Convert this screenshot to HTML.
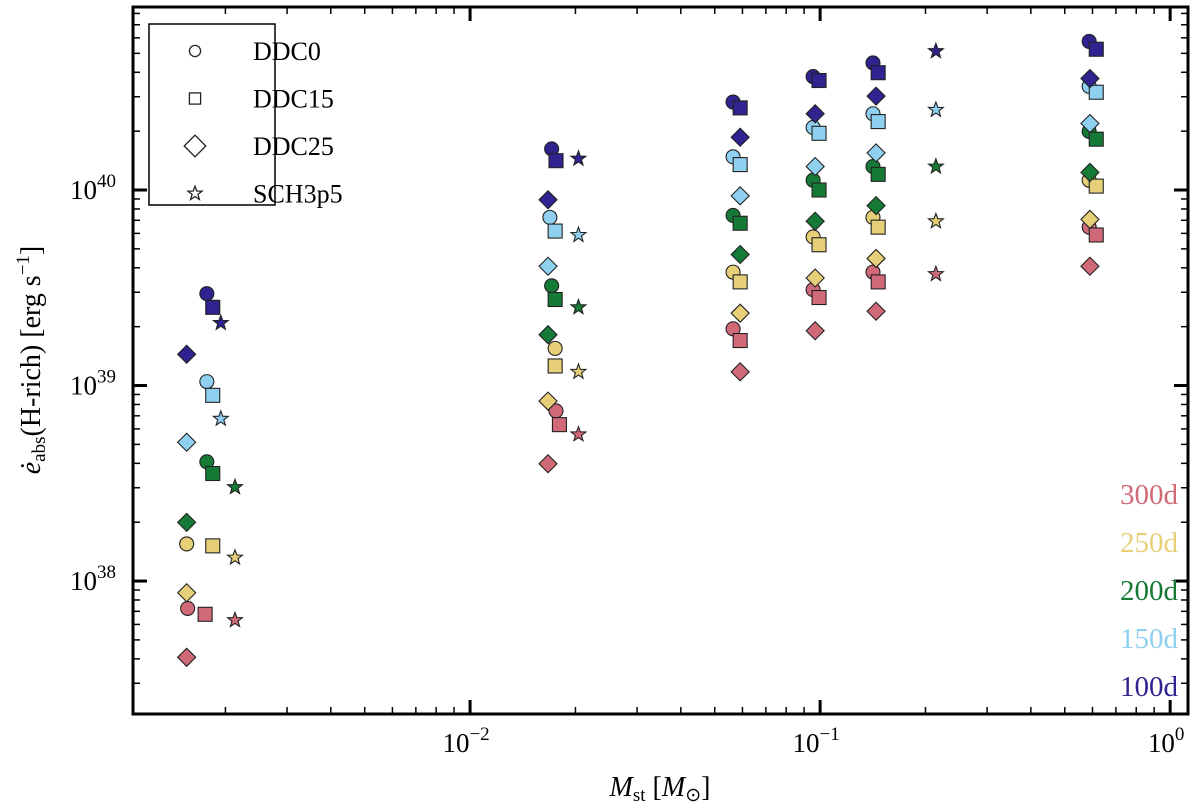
<!DOCTYPE html>
<html><head><meta charset="utf-8"><style>
html,body{margin:0;padding:0;background:#fff;}
svg text{font-family:"Liberation Serif",serif;}
</style></head><body>
<svg id="chart" width="1200" height="805" viewBox="0 0 1200 805" xmlns="http://www.w3.org/2000/svg"></svg>
<script>
// epochs: rows 100d,150d,200d,250d,300d
const epochs = ['100d','150d','200d','250d','300d'];
const epochColors = ['#2e238f','#8fd0f0','#157a35','#e6cf78','#d06a78'];
const models = ['DDC0','DDC15','DDC25','SCH3p5'];
// masses [Msun] per epoch, per model grid
const ddc0Mass = [
 [0.00177,0.0171,0.0564,0.0955,0.1416,0.587],
 [0.00177,0.0169,0.0564,0.0955,0.1416,0.587],
 [0.00177,0.0171,0.0564,0.0955,0.1416,0.587],
 [0.00155,0.0175,0.0564,0.0955,0.1416,0.587],
 [0.00156,0.0176,0.0564,0.0955,0.1416,0.587]];
const ddc0LogE = [
 [39.47,40.21,40.45,40.58,40.65,40.76],
 [39.02,39.86,40.17,40.32,40.39,40.53],
 [38.61,39.51,39.87,40.05,40.12,40.30],
 [38.19,39.19,39.58,39.76,39.86,40.05],
 [37.86,38.87,39.29,39.49,39.58,39.81]];
const ddc15Mass = [
 [0.00184,0.0176,0.0591,0.0993,0.1465,0.615],
 [0.00184,0.0175,0.0591,0.0993,0.1465,0.615],
 [0.00184,0.0175,0.0591,0.0993,0.1465,0.615],
 [0.00184,0.0175,0.0591,0.0993,0.1465,0.615],
 [0.00175,0.0180,0.0591,0.0993,0.1465,0.615]];
const ddc15LogE = [
 [39.40,40.15,40.42,40.56,40.60,40.72],
 [38.95,39.79,40.13,40.29,40.35,40.50],
 [38.55,39.44,39.83,40.00,40.08,40.26],
 [38.18,39.10,39.53,39.72,39.81,40.02],
 [37.83,38.80,39.23,39.45,39.53,39.77]];
const ddc25Mass = [0.00155,0.0167,0.0591,0.0968,0.1445,0.590];
const ddc25LogE = [
 [39.16,39.95,40.27,40.39,40.48,40.57],
 [38.71,39.61,39.97,40.12,40.19,40.34],
 [38.30,39.26,39.67,39.84,39.92,40.09],
 [37.94,38.92,39.37,39.55,39.65,39.85],
 [37.61,38.60,39.07,39.28,39.38,39.61]];
const sch3p5Mass = [
 [0.00194,0.0204,0.2142],
 [0.00194,0.0204,0.2142],
 [0.00213,0.0204,0.2142],
 [0.00213,0.0204,0.2142],
 [0.00213,0.0204,0.2142]];
const sch3p5LogE = [
 [39.32,40.16,40.71],
 [38.83,39.77,40.41],
 [38.48,39.40,40.12],
 [38.12,39.07,39.84],
 [37.80,38.75,39.57]];
const xTickLabels = ['10','10','10'];
const xTickExps = [-2,-1,0];
const yTickExps = [38,39,40];

const L=133,R=1188,T=7,B=714;
const xMinLog=-2.963,xMaxLog=0.051,yMinLog=37.32,yMaxLog=40.936;
function X(m){return L+(Math.log10(m)-xMinLog)/(xMaxLog-xMinLog)*(R-L);}
function Y(le){return B-(le-yMinLog)/(yMaxLog-yMinLog)*(B-T);}
const svg=document.getElementById('chart');
const NS='http://www.w3.org/2000/svg';
function mk(tag,attrs,parent){const e=document.createElementNS(NS,tag);for(const k in attrs)e.setAttribute(k,attrs[k]);(parent||svg).appendChild(e);return e;}

function marker(shape,cx,cy,fill,sw,sc,parent){
  let e;
  if(shape==='circle'){e=mk('circle',{cx:cx,cy:cy,r:7*sc},parent);}
  else if(shape==='square'){const s=7*sc;e=mk('rect',{x:cx-s,y:cy-s,width:2*s,height:2*s},parent);}
  else if(shape==='diamond'){const a=9*sc,b=9*sc;e=mk('polygon',{points:`${cx},${cy-a} ${cx+b},${cy} ${cx},${cy+a} ${cx-b},${cy}`},parent);}
  else {let p=[];for(let i=0;i<10;i++){const r=(i%2?3.2:7.8)*sc;const an=-Math.PI/2+i*Math.PI/5;p.push((cx+r*Math.cos(an)).toFixed(1)+','+(cy+r*Math.sin(an)).toFixed(1));}e=mk('polygon',{points:p.join(' ')},parent);}
  e.setAttribute('fill',fill);e.setAttribute('stroke','#222');e.setAttribute('stroke-width',sw);
  return e;
}

// data marks
const series=[['circle',ddc0Mass,ddc0LogE,'ddc0'],['square',ddc15Mass,ddc15LogE,'ddc15'],['diamond',ddc25Mass,ddc25LogE,'ddc25'],['star',sch3p5Mass,sch3p5LogE,'sch3p5']];
const gData=mk('g',{});


for(let e=epochs.length-1;e>=0;e--){
  for(const [shape,mass,vals,nm] of series){
    vals[e].forEach((v,i)=>{
      const m=Array.isArray(mass[0])?mass[e][i]:mass[i];
      const el=marker(shape,X(m),Y(v),epochColors[e],1.1,1,gData);
      
      
    });
  }
}

// axes frame
const frame=mk('rect',{x:L,y:T,width:R-L,height:B-T,fill:'none',stroke:'#000','stroke-width':3});


// ticks
const gT=mk('g',{stroke:'#000'});


for(let d=-3;d<=0;d++){for(let k=1;k<10;k++){const v=k*Math.pow(10,d);const x=X(v);if(x<L+1||x>R-1)continue;const len=k===1?14:7;const w=k===1?3:1.5;
  mk('line',{x1:x,x2:x,y1:B,y2:B-len,'stroke-width':w},gT);mk('line',{x1:x,x2:x,y1:T,y2:T+len,'stroke-width':w},gT);}}
for(let d=37;d<=40;d++){for(let k=1;k<10;k++){const le=d+Math.log10(k);const y=Y(le);if(y<T+1||y>B-1)continue;const len=k===1?14:7;const w=k===1?3:1.5;
  mk('line',{x1:L,x2:L+len,y1:y,y2:y,'stroke-width':w},gT);mk('line',{x1:R,x2:R-len,y1:y,y2:y,'stroke-width':w},gT);}}
// tick labels
xTickExps.forEach((ex,i)=>{const t=mk('text',{x:X(Math.pow(10,ex))-4,y:752,'font-size':27,'text-anchor':'middle'});
 
 t.innerHTML=xTickLabels[i]+'<tspan dy="-12" font-size="19">'+(ex<0?'−'+(-ex):ex)+'</tspan>';});
yTickExps.forEach(ex=>{const t=mk('text',{x:70,y:Y(ex)+9,'font-size':27});
 
 t.innerHTML='10<tspan dy="-12" font-size="19">'+ex+'</tspan>';});
// axis titles
const xt=mk('text',{x:660,y:796,'font-size':28,'text-anchor':'middle'});

xt.innerHTML='<tspan font-style="italic">M</tspan><tspan font-size="19" dy="5">st</tspan><tspan dy="-5"> [</tspan><tspan font-style="italic">M</tspan><tspan font-size="19" dy="5">⊙</tspan><tspan dy="-5">]</tspan>';
const yt=mk('text',{x:0,y:0,'font-size':28,'text-anchor':'middle',transform:'translate(40,360) rotate(-90)'});

yt.innerHTML='<tspan font-style="italic">ė</tspan><tspan font-size="19" dy="5">abs</tspan><tspan dy="-5">(H-rich) [erg s</tspan><tspan font-size="19" dy="-11">−1</tspan><tspan dy="11">]</tspan>';
// legend
const lg=mk('g',{});

mk('rect',{x:149,y:24,width:126,height:181,fill:'#fff',stroke:'#000','stroke-width':1.5},lg);
const legShapes=['circle','square','diamond','star'];
models.forEach((m,i)=>{const y=51+i*47.5;const g=mk('g',{},lg);
 
 marker(legShapes[i],195,y,'#fff',1.3,legShapes[i]==='diamond'?1.2:legShapes[i]==='star'?0.95:0.8,g);
 const t=mk('text',{x:253,y:y+9,'font-size':26},g);t.textContent=m;});
// epoch colour labels
const epY=[686,638,590,542,494];
epochs.forEach((e,i)=>{const t=mk('text',{x:1178,y:epY[i]+10,'font-size':29,'text-anchor':'end',fill:epochColors[i]});
 t.textContent=e;});
</script>
</body></html>
